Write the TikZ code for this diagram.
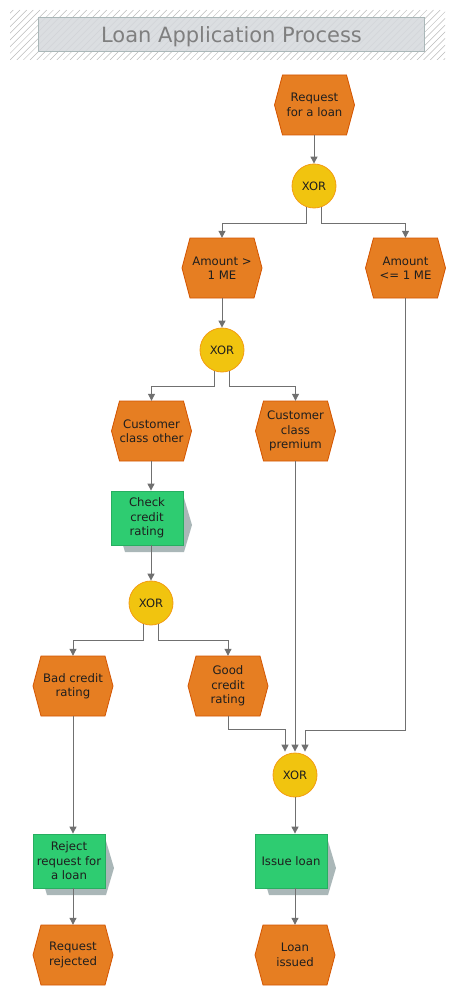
\documentclass[tikz,border=0pt]{standalone}
\usepackage{fontspec}
\setmainfont{DejaVu Sans}
\usetikzlibrary{arrows.meta}
\definecolor{evfill}{HTML}{E67E22}
\definecolor{evline}{HTML}{D35400}
\definecolor{xorfill}{HTML}{F1C40F}
\definecolor{xorline}{HTML}{F39C12}
\definecolor{fnfill}{HTML}{2ECC71}
\definecolor{fnline}{HTML}{27AE60}
\definecolor{shadowc}{HTML}{AAB7B8}
\definecolor{connc}{HTML}{707070}
\definecolor{titlefill}{HTML}{D5D8DC}
\definecolor{titleline}{HTML}{AAB7B8}
\definecolor{hatchc}{HTML}{BBBBBB}
\definecolor{titletext}{HTML}{7F7F7F}
\definecolor{txt}{HTML}{1E1E1E}
\tikzset{
  evshape/.style={fill=evfill, draw=evline, line width=0.8pt},
  evtext/.style={rectangle, minimum width=80pt, minimum height=60pt, inner sep=0pt, align=center, text=txt, font=\fontsize{11.7}{14.4}\selectfont},
  xornode/.style={circle, minimum size=44pt, inner sep=0pt, fill=xorfill, draw=xorline, line width=0.8pt, text=txt, font=\fontsize{11.5}{14}\selectfont},
  fnnode/.style={rectangle, minimum width=72pt, minimum height=54pt, inner sep=0pt, fill=fnfill, draw=fnline, line width=0.8pt, align=center, text=txt, font=\fontsize{11.7}{14.4}\selectfont},
  fnshadow/.style={fill=shadowc},
  hatchline/.style={draw=hatchc, line width=0.5pt},
  titlebox/.style={rectangle, minimum width=386pt, minimum height=34pt, inner sep=0pt, fill=titlefill, fill opacity=0.85, draw=titleline, line width=0.8pt},
  titletxt/.style={inner sep=0pt, text=titletext, font=\fontsize{21}{25}\selectfont},
  conn/.style={draw=connc, line width=1pt, -{Triangle[length=7pt,width=7pt]}},
}
\newcommand\evnode[4]{%
  \filldraw[evshape] (#2,#3) ++(-40,0) -- ++(8,-30) -- ++(64,0) -- ++(8,30) -- ++(-8,30) -- ++(-64,0) -- cycle;
  \node[evtext] (#1) at (#2,#3) {#4};}
\newcommand\fnbox[4]{%
  \fill[fnshadow] (#2,#3) ++(-30,7) -- ++(8,-27) -- ++(59,0) -- ++(8,27) -- ++(-8,27) -- ++(-59,0) -- cycle;
  \node[fnnode] (#1) at (#2,#3) {#4};}
\begin{document}
\begin{tikzpicture}[x=1pt,y=-1pt]
\useasboundingbox (0,0) rectangle (460,1000);
% title
\begin{scope}
  \clip (10,10) rectangle (445,60);
  \foreach \i in {0,...,75} \draw[hatchline] ({-50+\i*6.67},60) -- ++(50,-50);
\end{scope}
\node[titlebox] (title) at (231,34) {};
\node[titletxt, anchor=base] (titletext) at (231.5,42.5) {Loan Application Process};
% nodes
\evnode{req}{314.5}{105}{Request\\for a loan}
\node[xornode] (x1) at (314,186) {XOR};
\evnode{amtA}{222}{268}{Amount >\\1 ME}
\evnode{amtB}{405.5}{268}{Amount\\<= 1 ME}
\node[xornode] (x2) at (222,350) {XOR};
\evnode{other}{151.5}{431}{Customer\\class other}
\evnode{prem}{295.5}{431}{Customer\\class\\premium}
\fnbox{check}{147}{518}{Check\\credit\\rating}
\node[xornode] (x3) at (151,603) {XOR};
\evnode{bad}{73}{686}{Bad credit\\rating}
\evnode{good}{228}{686}{Good\\credit\\rating}
\node[xornode] (x4) at (295,775) {XOR};
\fnbox{reject}{69}{861}{Reject\\request for\\a loan}
\fnbox{issue}{291}{861}{Issue loan}
\evnode{rej}{73}{955}{Request\\rejected}
\evnode{issued}{295}{955}{Loan\\issued}
% connectors
\draw[conn] (req.south -| x1.north) -- (x1.north);
\draw[conn] (x1.250) -- ++(0,16) -| (amtA.north);
\draw[conn] (x1.290) -- ++(0,16) -| (amtB.north);
\draw[conn] (amtA.south) -- (x2.north);
\draw[conn] (x2.250) -- ++(0,15.5) -| (other.north);
\draw[conn] (x2.290) -- ++(0,15.5) -| (prem.north);
\draw[conn] (other.south -| x3.north) -- (check.north -| x3.north);
\draw[conn] (check.south -| x3.north) -- (x3.north);
\draw[conn] (x3.250) -- ++(0,16) -| (bad.north);
\draw[conn] (x3.290) -- ++(0,16) -| (good.north);
\draw[conn] (bad.south) -- (reject.north -| bad.south);
\draw[conn] (reject.south -| rej.north) -- (rej.north);
\draw[conn] (good.south) -- ++(0,13) -| ([xshift=-10pt,yshift=1pt]x4.north);
\draw[conn] (prem.south -| x4.north) -- ([yshift=1pt]x4.north);
\draw[conn] (amtB.south) -- ++(0,432) -| ([xshift=10pt,yshift=1pt]x4.north);
\draw[conn] (x4.south) -- (issue.north -| x4.south);
\draw[conn] (issue.south -| issued.north) -- (issued.north);
\end{tikzpicture}
\end{document}
